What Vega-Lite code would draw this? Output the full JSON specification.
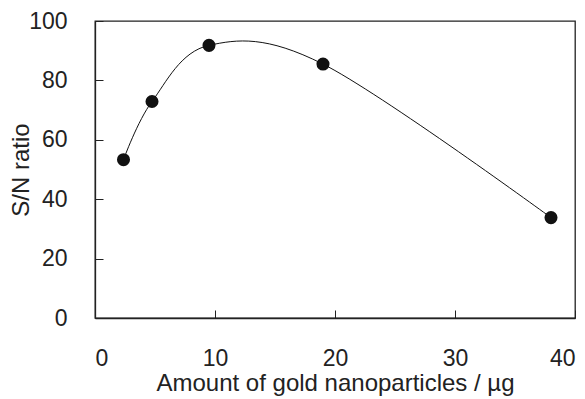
{
  "$schema": "https://vega.github.io/schema/vega-lite/v6.json",
  "width": 480,
  "height": 297,
  "autosize": {"type": "none"},
  "padding": {"left": 95, "top": 21, "right": 10, "bottom": 81},
  "background": "white",
  "config": {
    "view": {"stroke": "#222222", "strokeWidth": 1.3},
    "font": "Liberation Sans",
    "axis": {
      "domainColor": "#222222",
      "domainWidth": 1.3,
      "tickColor": "#222222",
      "tickWidth": 1,
      "tickSize": -8,
      "grid": false,
      "labelFont": "Liberation Sans",
      "labelFontSize": 23,
      "labelColor": "#222222",
      "titleFont": "Liberation Sans",
      "titleFontSize": 24,
      "titleFontWeight": "normal",
      "titleColor": "#222222"
    }
  },
  "data": {
    "values": [
      {"x": 2.375, "y": 53.3},
      {"x": 4.75, "y": 72.9},
      {"x": 9.5, "y": 91.8},
      {"x": 19, "y": 85.5},
      {"x": 38, "y": 33.8}
    ]
  },
  "encoding": {
    "x": {
      "field": "x",
      "type": "quantitative",
      "scale": {"domain": [0, 40], "nice": false, "zero": false},
      "axis": {"values": [0, 10, 20, 30, 40], "labelPadding": 37, "title": "Amount of gold nanoparticles / µg", "titlePadding": 1}
    },
    "y": {
      "field": "y",
      "type": "quantitative",
      "scale": {"domain": [0, 100], "nice": false},
      "axis": {"values": [0, 20, 40, 60, 80, 100], "labelPadding": 36, "title": "S/N ratio", "titlePadding": -5}
    }
  },
  "layer": [
    {"mark": {"type": "line", "interpolate": "cardinal", "tension": 0, "color": "#111111", "strokeWidth": 1}},
    {"mark": {"type": "point", "filled": true, "size": 170, "color": "#111111", "opacity": 1}}
  ]
}
